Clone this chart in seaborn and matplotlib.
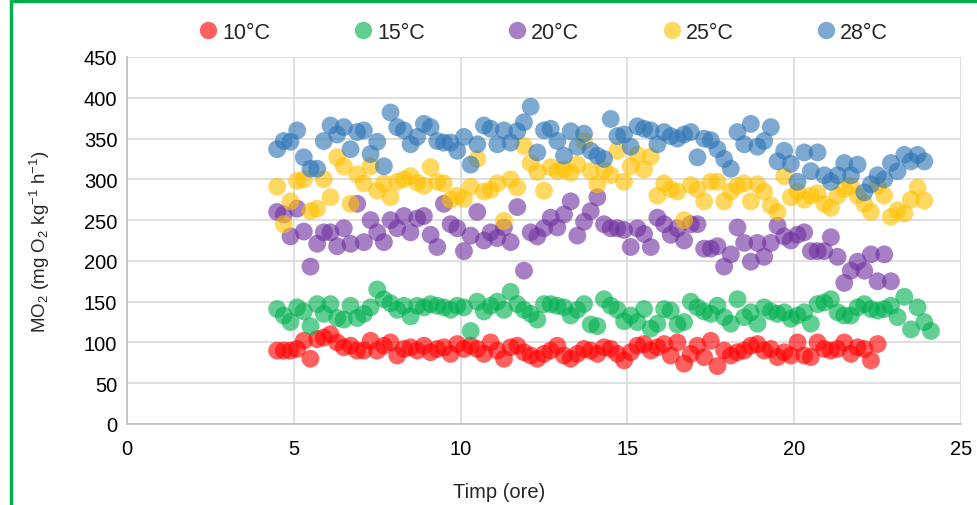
import numpy as np
import pandas as pd
import matplotlib
matplotlib.use("Agg")
import matplotlib.pyplot as plt
from matplotlib.lines import Line2D
import seaborn as sns

nan = float("nan")

hours = [4.5, 4.7, 4.9, 5.1, 5.3, 5.5, 5.7, 5.9, 6.1, 6.3, 6.5, 6.7, 6.9, 7.1, 7.3, 7.5, 7.7, 7.9,
         8.1, 8.3, 8.5, 8.7, 8.9, 9.1, 9.3, 9.5, 9.7, 9.9, 10.1, 10.3, 10.5, 10.7, 10.9, 11.1, 11.3,
         11.5, 11.7, 11.9, 12.1, 12.3, 12.5, 12.7, 12.9, 13.1, 13.3, 13.5, 13.7, 13.9, 14.1, 14.3,
         14.5, 14.7, 14.9, 15.1, 15.3, 15.5, 15.7, 15.9, 16.1, 16.3, 16.5, 16.7, 16.9, 17.1, 17.3,
         17.5, 17.7, 17.9, 18.1, 18.3, 18.5, 18.7, 18.9, 19.1, 19.3, 19.5, 19.7, 19.9, 20.1, 20.3,
         20.5, 20.7, 20.9, 21.1, 21.3, 21.5, 21.7, 21.9, 22.1, 22.3, 22.5, 22.7, 22.9, 23.1, 23.3,
         23.5, 23.7, 23.9, 24.1]

mo2_10 = [90, 90, 90, 92, 102, 80, 104, 106, 110, 100, 94, 96, 90, 90, 102, 90, 96, 100,
          84, 92, 94, 90, 96, 88, 92, 94, 86, 98, 92, 96, 92, 86, 100, 90, 80,
          94, 96, 88, 84, 80, 86, 90, 96, 84, 80, 86, 92, 90, 86, 94,
          92, 86, 78, 88, 96, 98, 90, 94, 98, 84, 100, 74, 86, 96, 82,
          102, 71, 90, 84, 88, 90, 96, 98, 90, 92, 82, 88, 84, 100, 84,
          82, 100, 92, 90, 92, 100, 86, 94, 92, 78, 98, nan, nan, nan, nan,
          nan, nan, nan, nan]

mo2_15 = [141, 133, 125, 143, 138, 120, 147, 135, 147, 130, 128, 145, 130, 135, 143, 165, 153, 148,
          140, 145, 132, 145, 143, 147, 145, 143, 140, 145, 143, 114, 150, 138, 145, 150, 140,
          162, 147, 140, 135, 128, 147, 147, 145, 143, 133, 140, 147, 122, 120, 153,
          145, 140, 126, 133, 125, 141, 117, 123, 141, 139, 122, 125, 150, 143, 138,
          135, 145, 131, 123, 153, 131, 137, 123, 143, 138, 135, 137, 129, 133, 137,
          123, 147, 149, 153, 137, 133, 133, 143, 147, 141, 139, 141, 145, 131, 156,
          116, 143, 125, 114]

mo2_20 = [260, 257, 230, 264, 236, 193, 221, 235, 235, 218, 240, 221, 270, 223, 250, 235, 223, 250,
          240, 255, 235, 252, 255, 232, 217, 270, 245, 240, 212, 231, 260, 225, 235, 228, 241,
          223, 266, 188, 235, 230, 240, 253, 241, 257, 273, 231, 248, 261, 278, 245,
          240, 240, 238, 217, 240, 233, 217, 253, 245, 232, 240, 225, 245, 245, 215,
          215, 218, 193, 208, 241, 222, 199, 222, 205, 222, 243, 230, 225, 232, 235,
          212, 212, 212, 229, 205, 173, 188, 199, 188, 208, 175, 208, 175, nan, nan,
          nan, nan, nan, nan]

mo2_25 = [291, 245, 273, 298, 300, 261, 264, 300, 278, 327, 316, 270, 306, 295, 316, 286, 295, 278,
          297, 300, 304, 296, 292, 315, 297, 295, 275, 280, 276, 291, 325, 285, 287, 295, 249,
          300, 290, 341, 320, 309, 286, 315, 310, 312, 308, 318, 347, 310, 294, 312,
          305, 335, 297, 316, 330, 312, 328, 280, 295, 288, 285, 250, 293, 288, 273,
          297, 297, 273, 285, 292, 295, 273, 294, 285, 268, 260, 304, 278, 285, 275,
          280, 283, 270, 265, 280, 288, 292, 280, 270, 260, 292, 280, 254, 262, 258,
          275, 290, 274, nan]

mo2_28 = [337, 347, 346, 360, 327, 313, 313, 347, 366, 355, 364, 337, 358, 360, 331, 346, 316, 382,
          364, 360, 343, 352, 368, 364, 347, 345, 345, 335, 352, 318, 343, 366, 362, 343, 360,
          345, 359, 370, 389, 333, 360, 362, 347, 329, 359, 340, 356, 335, 329, 325,
          374, 353, 355, 340, 365, 362, 360, 343, 358, 353, 350, 355, 358, 327, 350,
          348, 337, 325, 313, 358, 343, 368, 340, 347, 364, 322, 335, 319, 297, 333,
          310, 333, 305, 297, 305, 320, 305, 318, 284, 294, 305, 300, 320, 310, 330,
          322, 330, 322, nan]

series_labels = ["10°C", "15°C", "20°C", "25°C", "28°C"]
palette = ["#FF0000", "#00B050", "#7030A0", "#FFC000", "#2E75B6"]

frames = []
for lab, vals in zip(series_labels, [mo2_10, mo2_15, mo2_20, mo2_25, mo2_28]):
    frames.append(pd.DataFrame({"Timp": hours, "MO2": vals, "T": lab}))
df = pd.concat(frames, ignore_index=True).dropna()

sns.set_theme(style="white")
plt.rcParams["font.family"] = ["Liberation Sans", "DejaVu Sans"]
plt.rcParams["mathtext.fontset"] = "custom"
plt.rcParams["mathtext.rm"] = "Liberation Sans"
plt.rcParams["mathtext.it"] = "Liberation Sans:italic"

fig = plt.figure(figsize=(9.77, 5.06), dpi=100)
ax = fig.add_axes([127 / 977, 1 - 425 / 506, (961 - 127) / 977, (425 - 58) / 506])

sns.scatterplot(data=df, x="Timp", y="MO2", hue="T", hue_order=series_labels,
                palette=palette, s=165, alpha=0.62, edgecolor="none", linewidth=0,
                ax=ax, zorder=3, legend=False)

ax.set_xlim(0, 25)
ax.set_ylim(0, 450)
ax.set_xticks([0, 5, 10, 15, 20, 25])
ax.set_yticks(range(0, 451, 50))
ax.grid(True, color="#d9d9d9", linewidth=1.2, zorder=0)
ax.set_axisbelow(True)
for side in ["top", "right"]:
    ax.spines[side].set_visible(False)
for side in ["left", "bottom"]:
    ax.spines[side].set_color("#bfbfbf")
    ax.spines[side].set_linewidth(1.2)
ax.tick_params(axis="both", labelsize=14.5, length=0, colors="#000000")
ax.tick_params(axis="y", pad=7)
ax.tick_params(axis="x", pad=11)
ax.set_xlabel("Timp (ore)", fontsize=14.5, va="center")
ax.xaxis.set_label_coords(0.446, -0.185)
ax.set_ylabel(r"MO$_2$ (mg O$_2$ kg$^{-1}$ h$^{-1}$)", fontsize=13.5, va="center")
ax.yaxis.set_label_coords(-0.104, 0.5)

handles = [Line2D([0], [0], marker="o", linestyle="none", markersize=12.5,
                  markerfacecolor=c, markeredgecolor="none", alpha=0.62) for c in palette]
ax.legend(handles, series_labels, loc="center", bbox_to_anchor=(0.5, 1.068), ncol=5,
          frameon=False, fontsize=15.5, handlelength=0.8, handletextpad=0.25,
          columnspacing=3.9, borderaxespad=0)

# green outer frame (left and top edges visible)
green = "#00B050"
fig.add_artist(Line2D([10.5 / 977, 10.5 / 977], [0, 1 - 2 / 506], transform=fig.transFigure,
                      color=green, linewidth=2.5))
fig.add_artist(Line2D([10.5 / 977, 1], [1 - 2 / 506, 1 - 2 / 506], transform=fig.transFigure,
                      color=green, linewidth=2.5))

fig.savefig("out.png", dpi=100)
